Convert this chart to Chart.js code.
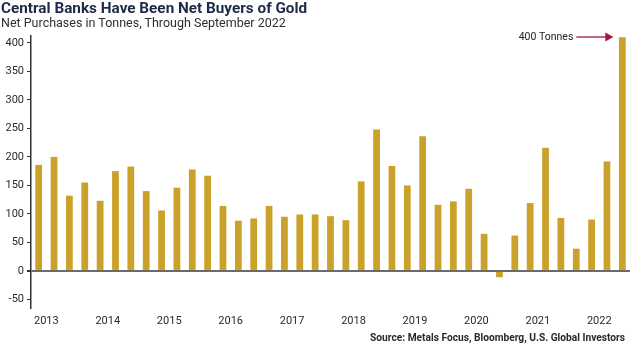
<!DOCTYPE html>
<html lang="en">
<head>
<meta charset="UTF-8">
<title>Central Banks Gold Purchases</title>
<script src="https://cdn.jsdelivr.net/npm/chart.js"></script>
<style>
    body { margin: 0; background: #fff; font-family: Roboto, sans-serif; }
    #wrap { position: relative; width: 630px; height: 350px; overflow: hidden; }
    #title { position: absolute; left: 1px; top: -1px; font-size: 15.3px; font-weight: 700; color: #1c2a47; white-space: nowrap; }
    #subtitle { position: absolute; left: 1px; top: 15px; font-size: 12.5px; color: #2f2f2f; white-space: nowrap; }
    #source { position: absolute; right: 5px; top: 332px; font-size: 10.2px; font-weight: 700; color: #2a2a2a; white-space: nowrap; }
    canvas { position: absolute; left: 0; top: 0; }
</style>
</head>
<body>
<div id="wrap">
    <canvas id="goldChart" width="630" height="350"></canvas>
    <div id="title">Central Banks Have Been Net Buyers of Gold</div>
    <div id="subtitle">Net Purchases in Tonnes, Through September 2022</div>
    <div id="source">Source: Metals Focus, Bloomberg, U.S. Global Investors</div>
</div>
<script>
// quarterly net purchases, Q1 2013 .. Q3 2022
const quarters = [];
const years = ['2013', '2014', '2015', '2016', '2017', '2018', '2019', '2020', '2021', '2022'];
years.forEach(y => ['Q1', 'Q2', 'Q3', 'Q4'].forEach(q => quarters.push(y + ' ' + q)));
quarters.pop(); // data ends with Q3 2022

const tonnes = [
    186, 200, 132, 155,
    123, 175, 183, 140,
    106, 146, 178, 167,
    114, 88, 92, 114,
    95, 99, 99, 96,
    89, 157, 248, 184,
    150, 236, 116, 122,
    144, 65, -11, 62,
    119, 216, 93, 39,
    90, 192, 410
];
const yTicks = [-50, 0, 50, 100, 150, 200, 250, 300, 350, 400];
const calloutText = '400 Tonnes';

const arrowPlugin = {
    id: 'callout',
    afterDraw(chart) {
        const ctx = chart.ctx;
        const x = chart.scales.x;
        const y = chart.scales.y;
        const last = tonnes.length - 1;
        const tipX = x.getPixelForValue(last) - 9;
        const yy = y.getPixelForValue(412) + 1;
        ctx.save();
        ctx.strokeStyle = '#a3173f';
        ctx.fillStyle = '#a3173f';
        ctx.lineWidth = 1.3;
        ctx.beginPath();
        ctx.moveTo(tipX - 37, yy);
        ctx.lineTo(tipX - 7, yy);
        ctx.stroke();
        ctx.beginPath();
        ctx.moveTo(tipX, yy);
        ctx.lineTo(tipX - 8, yy - 4.5);
        ctx.lineTo(tipX - 8, yy + 4.5);
        ctx.closePath();
        ctx.fill();
        ctx.fillStyle = '#222';
        ctx.font = '10.5px Roboto, sans-serif';
        ctx.textAlign = 'right';
        ctx.textBaseline = 'middle';
        ctx.fillText(calloutText, tipX - 40, yy);
        ctx.restore();
    }
};

new Chart(document.getElementById('goldChart'), {
    type: 'bar',
    data: {
        labels: quarters,
        datasets: [{
            data: tonnes,
            backgroundColor: '#c9a12b',
            barPercentage: 0.44,
            categoryPercentage: 1.0
        }]
    },
    options: {
        responsive: false,
        animation: false,
        layout: { padding: { top: 36, right: 0, left: 0, bottom: 0 } },
        plugins: { legend: { display: false }, tooltip: { enabled: false } },
        scales: {
            x: {
                display: false,
                offset: true
            },
            xYear: {
                type: 'linear',
                position: 'bottom',
                offset: false,
                min: -0.5,
                max: quarters.length - 0.5,
                afterBuildTicks: axis => { axis.ticks = years.map((yr, i) => ({ value: i * 4 + 0.5 })); },
                afterFit: axis => { axis.height = 42; },
                grid: { display: false, drawTicks: false, offset: false },
                border: { display: false },
                ticks: {
                    padding: 7,
                    maxRotation: 0,
                    autoSkip: false,
                    color: '#2a2a2a',
                    font: { family: 'Roboto', size: 11 },
                    callback: v => years[Math.round((v - 0.5) / 4)]
                }
            },
            y: {
                min: -65,
                max: 412,
                afterBuildTicks: axis => { axis.ticks = yTicks.map(v => ({ value: v })); },
                afterFit: axis => { axis.width = 31; },
                border: { display: true, color: '#333', width: 1.5 },
                grid: {
                    color: c => c.tick && c.tick.value === 0 ? '#6b6b6b' : 'transparent',
                    lineWidth: c => c.tick && c.tick.value === 0 ? 2 : 1,
                    tickColor: '#333',
                    tickLength: 4
                },
                ticks: {
                    padding: 3,
                    color: '#2a2a2a',
                    font: { family: 'Roboto', size: 11 }
                }
            }
        }
    },
    plugins: [arrowPlugin]
});
</script>
</body>
</html>
